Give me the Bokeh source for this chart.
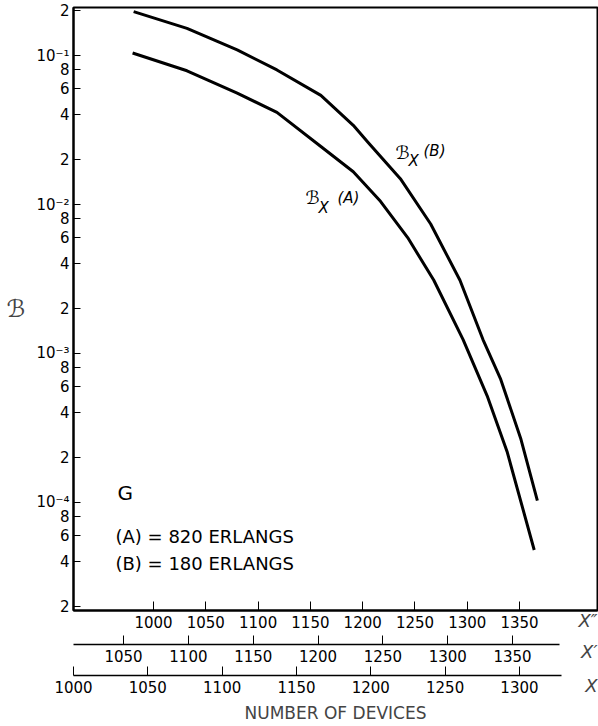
from bokeh.plotting import figure
from bokeh.models import Range1d, LinearAxis, FixedTicker, CustomJSTickFormatter, Label
from bokeh.embed import file_html
from bokeh.resources import INLINE

# ---- data (x in X'' devices, y = blocking probability) ----
devices_a = [980, 1032, 1080, 1118, 1160, 1191, 1217, 1243, 1268, 1296, 1319, 1338, 1364]
beta_a = [0.104, 0.079, 0.056, 0.0415, 0.0245, 0.0166, 0.0105, 0.0060, 0.0031,
          0.00124, 5.2e-4, 2.2e-4, 4.8e-5]
devices_b = [981, 1032, 1080, 1118, 1160, 1191, 1205, 1236, 1265, 1293, 1315, 1332, 1351, 1367]
beta_b = [0.197, 0.152, 0.109, 0.080, 0.054, 0.034, 0.0262, 0.0149, 0.0074, 0.0031,
          0.00124, 6.7e-4, 2.7e-4, 1.03e-4]

y_ticks = [2e-5, 4e-5, 6e-5, 8e-5, 1e-4, 2e-4, 4e-4, 6e-4, 8e-4, 1e-3,
           2e-3, 4e-3, 6e-3, 8e-3, 1e-2, 2e-2, 4e-2, 6e-2, 8e-2, 1e-1, 2e-1]
y_labels = ["2", "4", "6", "8", "10⁻⁴", "2", "4", "6", "8", "10⁻³",
            "2", "4", "6", "8", "10⁻²", "2", "4", "6", "8", "10⁻¹", "2"]
xpp_ticks = [1000, 1050, 1100, 1150, 1200, 1250, 1300, 1350]
xp_ticks = [1050, 1100, 1150, 1200, 1250, 1300, 1350]
x_ticks = [1000, 1050, 1100, 1150, 1200, 1250, 1300]

FONT = "DejaVu Sans"

p = figure(width=598, height=726, output_backend="svg", toolbar_location=None,
           x_range=Range1d(923.5, 1424.5), y_range=Range1d(1.884e-5, 0.21),
           y_axis_type="log", min_border_left=73, min_border_right=1,
           min_border_top=7, min_border_bottom=116)
p.background_fill_color = "white"
p.border_fill_color = "white"
p.outline_line_color = "black"
p.outline_line_width = 2
p.grid.visible = False

p.line(devices_a, beta_a, line_color="black", line_width=3, line_join="round")
p.line(devices_b, beta_b, line_color="black", line_width=3, line_join="round")

# y axis
ya = p.yaxis[0]
ya.ticker = FixedTicker(ticks=y_ticks, minor_ticks=[])
ya.formatter = CustomJSTickFormatter(args=dict(tv=y_ticks, tl=y_labels), code="""
let best = 0, d = Infinity;
for (let i = 0; i < tv.length; i++) {
  const e = Math.abs(Math.log(tv[i]) - Math.log(tick));
  if (e < d) { d = e; best = i; }
}
return tl[best];
""")
ya.axis_line_width = 2
ya.major_tick_in = 7
ya.major_tick_out = 0
ya.minor_tick_line_color = None
ya.major_label_text_font = FONT
ya.major_label_text_font_size = "15px"
ya.major_label_text_color = "black"
ya.major_label_standoff = 4
ya.axis_label = "ℬ"
ya.axis_label_orientation = "horizontal"
ya.axis_label_text_font = FONT
ya.axis_label_text_font_style = "italic"
ya.axis_label_text_font_size = "24px"
ya.axis_label_standoff = 8

def style_x(ax, width):
    ax.axis_line_width = width
    ax.major_tick_in = 9
    ax.major_tick_out = 0
    ax.minor_tick_line_color = None
    ax.major_label_text_font = FONT
    ax.major_label_text_font_size = "15px"
    ax.major_label_text_color = "black"
    ax.major_label_standoff = 5

def name_axis(ax, text, standoff):
    ax.axis_label = text
    ax.axis_label_text_font = FONT
    ax.axis_label_text_font_style = "italic"
    ax.axis_label_text_font_size = "18px"
    ax.axis_label_standoff = standoff
    ax.axis_label_align = "end"
    ax.axis_label_orientation = 0.0001   # tiny angle -> right-anchored at the axis end

xpp = p.xaxis[0]
xpp.ticker = FixedTicker(ticks=xpp_ticks, minor_ticks=[])
style_x(xpp, 2)
name_axis(xpp, "X″", -10)

p.extra_x_ranges = {"xp": Range1d(1011.4, 1415.5), "x": Range1d(1000, 1352.5)}
xp = LinearAxis(x_range_name="xp", ticker=FixedTicker(ticks=xp_ticks, minor_ticks=[]),
                bounds=(1011.4, 1386))
style_x(xp, 1.5)
name_axis(xp, "X′", -13)
p.add_layout(xp, "below")

xa = LinearAxis(x_range_name="x", ticker=FixedTicker(ticks=x_ticks, minor_ticks=[]),
                bounds=(1000, 1328))
style_x(xa, 1.5)
name_axis(xa, "X", -10)
p.add_layout(xa, "below")

title_axis = LinearAxis(x_range_name="x", ticker=FixedTicker(ticks=[], minor_ticks=[]),
                        axis_line_color=None, major_tick_line_color=None,
                        minor_tick_line_color=None)
title_axis.axis_label = "NUMBER OF DEVICES"
title_axis.axis_label_text_font = FONT
title_axis.axis_label_text_font_style = "normal"
title_axis.axis_label_text_font_size = "17px"
title_axis.axis_label_standoff = -7
p.add_layout(title_axis, "below")

def lab(text, x, y, size, style="normal"):
    p.add_layout(Label(x=x, y=y, x_units="screen", y_units="screen", text=text,
                       text_font=FONT, text_font_size=size, text_font_style=style,
                       text_color="black", text_align="left", text_baseline="middle"))

# curve labels
lab("ℬ", 232, 413, "18px", "italic")
lab("X", 245, 403, "15px", "italic")
lab("(A)", 264, 413, "15px", "italic")
lab("ℬ", 322, 458, "18px", "italic")
lab("X", 335, 450, "15px", "italic")
lab("(B)", 350, 460, "15px", "italic")

lab("G", 44, 118, "20px")
lab("(A) = 820 ERLANGS", 42, 74, "18px")
lab("(B) = 180 ERLANGS", 42, 47, "18px")

open("out.html", "w").write(file_html(p, INLINE))
